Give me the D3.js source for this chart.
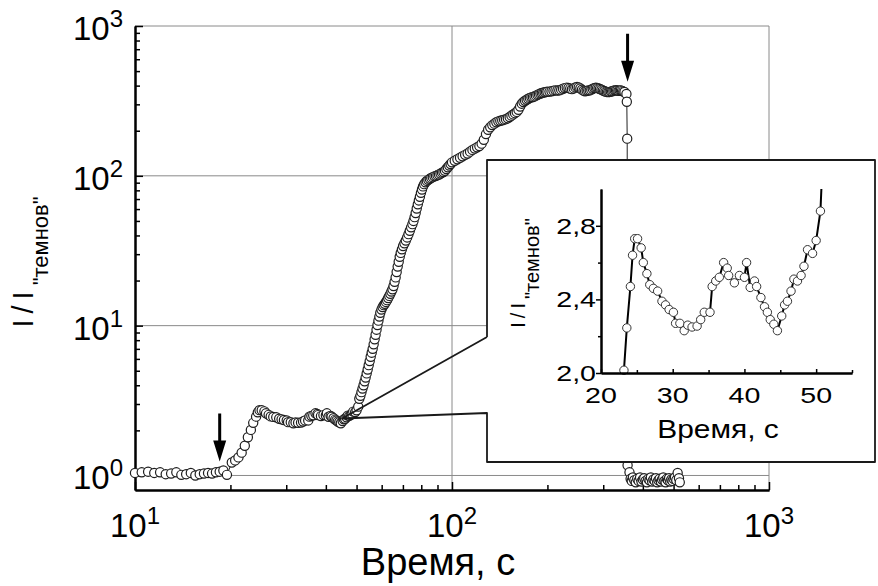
<!DOCTYPE html>
<meta charset="utf-8">
<title>I/I темнов от времени</title>
<style>
    body { margin: 0; background: #fff; }
    svg { display: block; font-family: "Liberation Sans", Arial, sans-serif; }
</style>
<body>
<script src="https://d3js.org/d3.v7.min.js"></script>
<div id="chart"></div>
<script>
    // time, s
    var time = [
        10, 10.5, 11, 11.5, 12, 12.5, 13, 13.5, 14, 14.5,
        15, 15.5, 16, 16.5, 17, 17.5, 18, 18.5, 19, 19.5,
        20.2, 20.7, 21.2, 21.7, 22.2, 22.7,
        23.2, 23.6, 24.1, 24.4, 24.7, 25.1, 25.6, 25.9, 26.4, 26.8,
        27.3, 27.9, 28.5, 29.0, 29.5, 30.1, 30.4, 31.0, 31.6, 32.1,
        32.7, 33.4, 33.9, 34.4, 35.2, 35.5, 36.0, 36.5, 37.1, 37.6,
        37.8, 38.6, 39.3, 40.0, 40.3, 40.8, 41.4, 41.7, 42.3, 42.8,
        43.2, 43.6, 44.1, 44.6, 45.2, 45.6, 46.0, 46.5, 46.9, 47.4,
        47.9, 48.3, 48.8, 49.5, 50.0, 50.6,
        51.0, 51.4, 51.8, 52.2, 52.6, 53.0, 53.4, 53.8, 54.2, 54.6,
        55.0, 55.4, 55.8, 56.2, 56.6, 57.0, 57.4, 57.8, 58.2, 58.6,
        59.0, 59.4, 59.9, 60.4, 60.9, 61.4, 61.9, 62.4, 62.9, 63.4,
        63.9, 64.4, 64.9, 65.4, 65.9, 66.4, 66.9, 67.4, 67.9, 68.4,
        68.9, 69.5, 70.1, 70.8, 71.5, 72.2, 72.9, 73.6, 74.3, 75.0,
        75.6, 76.2, 76.8, 77.4, 78.0, 78.6, 79.2, 79.8, 80.4, 81.0,
        81.7, 82.5, 83.3, 84.2, 85.1, 86.0, 87.0, 88.0, 89.0, 90.0,
        91, 92, 93, 94, 95, 96, 97, 98, 99, 100,
        102, 104, 106, 108, 110, 112, 114, 116, 118, 120,
        122, 124, 126, 128, 130, 132, 134, 136, 138, 140,
        142, 144, 146, 148, 150, 152, 154, 156, 158, 160,
        162, 164, 166, 168, 170, 172, 174, 176, 178, 180,
        182, 184, 186, 188, 190, 192, 194, 196, 198, 200,
        203, 206, 209, 212, 215, 218, 221, 224, 227, 230,
        233, 236, 239, 242, 245, 248, 251, 254, 257, 260,
        263, 266, 269, 272, 275, 278, 281, 284, 287, 290,
        293, 296, 299, 302, 305, 308, 311, 314, 317, 320,
        323, 326, 329, 332, 335, 338, 341, 344, 347, 350,
        355, 356, 357, 358,
        363, 366, 369, 372, 376, 380, 384, 388, 392, 396,
        400, 404, 408, 412, 416, 420, 424, 428, 432, 436,
        440, 444, 448, 452, 456, 460, 464, 468, 472, 476,
        480, 484, 488, 492, 496, 500, 505, 510, 515, 520, 523
    ];
    // I / I"темнов"
    var ratio = [
        1.04, 1.05, 1.06, 1.04, 1.05, 1.02, 1.03, 1.05, 1.01, 1.02,
        1.04, 1.00, 1.02, 1.03, 1.04, 1.03, 1.05, 1.06, 1.08, 1.01,
        1.22, 1.26, 1.32, 1.42, 1.58, 1.80,
        2.015, 2.245, 2.47, 2.64, 2.73, 2.73, 2.68, 2.60, 2.54, 2.48,
        2.46, 2.445, 2.39, 2.37, 2.345, 2.33, 2.27, 2.27, 2.23, 2.26,
        2.25, 2.255, 2.29, 2.33, 2.33, 2.47, 2.50, 2.52, 2.60, 2.57,
        2.53, 2.49, 2.53, 2.52, 2.60, 2.465, 2.50, 2.47, 2.41, 2.36,
        2.33, 2.29, 2.265, 2.23, 2.31, 2.37, 2.39, 2.445, 2.51, 2.50,
        2.53, 2.58, 2.67, 2.65, 2.72, 2.88,
        3.25, 3.4, 3.6, 3.8, 4.0, 4.25, 4.5, 4.8, 5.1, 5.45,
        5.8, 6.2, 6.6, 7.0, 7.5, 8.1, 8.7, 9.4, 10.1, 10.8,
        11.5, 12.2, 12.8, 13.3, 13.7, 14.0, 14.4, 14.8, 15.3, 15.8,
        16.3, 16.9, 17.5, 18.4, 19.6, 21.0, 22.8, 24.8, 26.7, 28.8,
        30.6, 32.3, 34.0, 35.5, 37.0, 38.8, 40.8, 43.0, 45.3, 47.6,
        50.0, 53.0, 56.5, 60.5, 64.5, 68.5, 72.5, 77.0, 81.0, 85.0,
        88.0, 90.5, 92.5, 94.0, 95.5, 96.8, 98.0, 99.2, 100, 101,
        102, 103.5, 105, 106, 108, 111, 114, 117, 120, 123,
        126, 129, 132, 135, 138, 141, 145, 149, 152, 155,
        158, 164, 174, 190, 203, 211, 218, 223, 228, 231,
        233, 235, 237, 239, 242, 247, 252, 257, 262, 267,
        276, 290, 303, 311, 317, 322, 327, 331, 334, 336,
        339, 343, 347, 351, 354, 357, 359, 361, 363, 364,
        365, 367, 370, 372, 371, 372, 376, 381, 385, 388,
        386, 382, 379, 383, 389, 392, 389, 383, 376, 370,
        367, 369, 371, 372, 376, 381, 385, 387, 386, 383,
        380, 376, 372, 368, 365, 363, 362, 363, 365, 367,
        370, 372, 373, 371, 369, 371, 372, 369, 365, 363,
        352, 312, 177, 1.17,
        1.05, 0.95, 0.92, 0.97, 0.93, 0.90, 0.95, 0.92, 0.97, 0.91,
        0.94, 0.96, 0.92, 0.90, 0.95, 0.93, 0.97, 0.91, 0.94, 0.92,
        0.96, 0.90, 0.93, 0.95, 0.91, 0.94, 0.97, 0.92, 0.90, 0.95,
        0.93, 0.96, 0.91, 0.94, 0.92, 0.95, 0.97, 0.93, 1.04, 0.96, 0.90
    ];

    var xTicks = [10, 100, 1000];
    var xGrid = [100, 1000];
    var yTicks = [1, 10, 100, 1000];
    var insetXTicks = [20, 30, 40, 50];
    var insetXMinor = [25, 35, 45, 55];
    var insetYTicks = [2.0, 2.4, 2.8];
    var insetYMinor = [2.2, 2.6];

    // arrows: light switched on / off
    var arrowTime = [18.5, 358];
    var arrowLevel = [1.24, 425];

    // the point of the main curve the inset is pinned to
    var zoomTime = 45;
    var zoomLevel = 2.4;

    var width = 878;
    var height = 586;
    var plot = {left: 135, right: 769, top: 26, bottom: 490};
    var box = {left: 487, right: 875, top: 160, bottom: 462, notchTop: 337, notchBottom: 413};
    var inset = {left: 601, right: 852, top: 189, bottom: 373};

    var points = time.map(function(t, i) { return [t, ratio[i]]; });

    var x = d3.scaleLog().domain([10, 1000]).range([plot.left, plot.right]);
    var y = d3.scaleLog().domain([0.8, 1000]).range([plot.bottom, plot.top]);
    var ix = d3.scaleLinear().domain([20, 55]).range([inset.left, inset.right]);
    var iy = d3.scaleLinear().domain([2, 3]).range([inset.bottom, inset.top]);

    var xMinor = x.ticks().filter(function(d) { return xTicks.indexOf(d) < 0; });
    var yMinor = y.ticks().filter(function(d) { return d >= 1 && yTicks.indexOf(d) < 0; });

    var svg = d3.select("#chart").append("svg")
        .attr("width", width)
        .attr("height", height);

    // grid (also gives the top and right border)
    var grid = svg.append("g")
        .attr("stroke", "#8a8a8a")
        .attr("stroke-width", 1);
    grid.selectAll(".hgrid")
        .data(yTicks)
        .enter().append("line")
        .attr("x1", plot.left)
        .attr("x2", plot.right)
        .attr("y1", function(d) { return y(d); })
        .attr("y2", function(d) { return y(d); });
    grid.selectAll(".vgrid")
        .data(xGrid)
        .enter().append("line")
        .attr("x1", function(d) { return x(d); })
        .attr("x2", function(d) { return x(d); })
        .attr("y1", plot.top)
        .attr("y2", plot.bottom);

    function styleAxis(g, w) {
        g.selectAll("path, line").attr("stroke", "#000");
        g.select(".domain").attr("stroke-width", w);
        g.selectAll(".tick line").attr("stroke-width", 1.5);
    }

    // main axes, ticks inside
    svg.append("g")
        .attr("transform", "translate(" + plot.left + ",0)")
        .call(d3.axisLeft(y).tickValues(yTicks).tickSize(-8).tickSizeOuter(0).tickFormat(""))
        .call(styleAxis, 2);
    svg.append("g")
        .attr("transform", "translate(" + plot.left + ",0)")
        .call(d3.axisLeft(y).tickValues(yMinor).tickSize(-5).tickSizeOuter(0).tickFormat(""))
        .call(styleAxis, 2);
    svg.append("g")
        .attr("transform", "translate(0," + plot.bottom + ")")
        .call(d3.axisBottom(x).tickValues(xTicks).tickSize(-8).tickSizeOuter(0).tickFormat(""))
        .call(styleAxis, 2);
    svg.append("g")
        .attr("transform", "translate(0," + plot.bottom + ")")
        .call(d3.axisBottom(x).tickValues(xMinor).tickSize(-5).tickSizeOuter(0).tickFormat(""))
        .call(styleAxis, 2);

    function powerLabel(sel) {
        sel.append("tspan").text("10");
        sel.append("tspan")
            .attr("dy", -13)
            .style("font-size", "24px")
            .text(function(d) { return Math.round(Math.log10(d)); });
    }

    svg.append("g").selectAll("text")
        .data(yTicks)
        .enter().append("text")
        .attr("x", 123)
        .attr("y", function(d) { return y(d) + 14; })
        .attr("text-anchor", "end")
        .style("font-size", "33px")
        .call(powerLabel);

    svg.append("g").selectAll("text")
        .data(xTicks)
        .enter().append("text")
        .attr("x", function(d) { return x(d); })
        .attr("y", 537)
        .attr("text-anchor", "middle")
        .style("font-size", "33px")
        .call(powerLabel);

    svg.append("text")
        .attr("x", 438)
        .attr("y", 575)
        .attr("text-anchor", "middle")
        .style("font-size", "38px")
        .text("Время, с");

    var yTitle = svg.append("text")
        .attr("transform", "translate(33,262) rotate(-90)")
        .attr("text-anchor", "middle");
    yTitle.append("tspan")
        .style("font-size", "29px")
        .style("letter-spacing", "6px")
        .text("I/I");
    yTitle.append("tspan")
        .attr("dy", 15)
        .style("font-size", "22px")
        .text("\"темнов\"");

    // main series
    var line = d3.line()
        .x(function(d) { return x(d[0]); })
        .y(function(d) { return y(d[1]); });

    svg.append("path")
        .datum(points)
        .attr("d", line)
        .attr("fill", "none")
        .attr("stroke", "#222")
        .attr("stroke-width", 1);

    svg.append("g").selectAll("circle")
        .data(points)
        .enter().append("circle")
        .attr("cx", function(d) { return x(d[0]); })
        .attr("cy", function(d) { return y(d[1]); })
        .attr("r", 4.6)
        .attr("fill", "#fff")
        .attr("stroke", "#1e1e1e")
        .attr("stroke-width", 1.2);

    // inset box with pointer to the zoomed point
    var tipX = x(zoomTime), tipY = y(zoomLevel);
    svg.append("rect")
        .attr("x", box.left)
        .attr("y", box.top)
        .attr("width", box.right - box.left)
        .attr("height", box.bottom - box.top)
        .attr("fill", "#fff");
    svg.append("path")
        .attr("d", "M" + box.left + "," + box.notchTop + "V" + box.top + "H" + box.right +
            "V" + box.bottom + "H" + box.left + "V" + box.notchBottom +
            "L" + tipX + "," + tipY + "L" + box.left + "," + box.notchTop)
        .attr("fill", "none")
        .attr("stroke", "#1a1a1a")
        .attr("stroke-width", 1.8)
        .attr("stroke-linejoin", "round");

    // inset
    svg.append("clipPath")
        .attr("id", "insetClip")
        .append("rect")
        .attr("x", inset.left)
        .attr("y", inset.top)
        .attr("width", inset.right - inset.left)
        .attr("height", inset.bottom - inset.top);

    var insetPts = points.filter(function(d) {
        return d[0] >= 20 && d[0] <= 55 && d[1] >= 2 && d[1] <= 3;
    });
    var insetLinePts = points.filter(function(d) { return d[0] > 22 && d[0] < 52; });

    svg.append("path")
        .datum(insetLinePts)
        .attr("clip-path", "url(#insetClip)")
        .attr("d", d3.line()
            .x(function(d) { return ix(d[0]); })
            .y(function(d) { return iy(d[1]); }))
        .attr("fill", "none")
        .attr("stroke", "#000")
        .attr("stroke-width", 2);

    svg.append("g").selectAll("circle")
        .data(insetPts)
        .enter().append("circle")
        .attr("cx", function(d) { return ix(d[0]); })
        .attr("cy", function(d) { return iy(d[1]); })
        .attr("r", 4.2)
        .attr("fill", "#fff")
        .attr("stroke", "#333")
        .attr("stroke-width", 1);

    svg.append("g")
        .attr("transform", "translate(0," + inset.bottom + ")")
        .call(d3.axisBottom(ix).tickValues(insetXTicks).tickSize(-4).tickSizeOuter(0).tickFormat(""))
        .call(styleAxis, 2);
    svg.append("g")
        .attr("transform", "translate(0," + inset.bottom + ")")
        .call(d3.axisBottom(ix).tickValues(insetXMinor).tickSize(-3).tickSizeOuter(0).tickFormat(""))
        .call(styleAxis, 2);
    svg.append("g")
        .attr("transform", "translate(" + inset.left + ",0)")
        .call(d3.axisLeft(iy).tickValues(insetYTicks).tickSize(5).tickSizeOuter(0).tickFormat(""))
        .call(styleAxis, 2);
    svg.append("g")
        .attr("transform", "translate(" + inset.left + ",0)")
        .call(d3.axisLeft(iy).tickValues(insetYMinor).tickSize(3).tickSizeOuter(0).tickFormat(""))
        .call(styleAxis, 2);

    var comma = function(d) { return d3.format(".1f")(d).replace(".", ","); };

    svg.append("g").selectAll("text")
        .data(insetYTicks)
        .enter().append("text")
        .attr("transform", function(d) { return "translate(596," + (iy(d) + 8) + ") scale(1.3,1)"; })
        .attr("text-anchor", "end")
        .style("font-size", "22px")
        .text(comma);

    svg.append("g").selectAll("text")
        .data(insetXTicks)
        .enter().append("text")
        .attr("transform", function(d) { return "translate(" + ix(d) + ",403) scale(1.3,1)"; })
        .attr("text-anchor", "middle")
        .style("font-size", "22px")
        .text(function(d) { return d; });

    svg.append("text")
        .attr("transform", "translate(718,438) scale(1.15,1)")
        .attr("text-anchor", "middle")
        .style("font-size", "26px")
        .text("Время, с");

    var iyTitle = svg.append("text")
        .attr("transform", "translate(525,273) rotate(-90)")
        .attr("text-anchor", "middle");
    iyTitle.append("tspan")
        .style("font-size", "20px")
        .style("letter-spacing", "4px")
        .text("I/I");
    iyTitle.append("tspan")
        .attr("dy", 14)
        .style("font-size", "20px")
        .text("\"темнов\"");

    // arrows
    svg.append("g").selectAll("path")
        .data(arrowTime)
        .enter().append("path")
        .attr("d", function(d, i) {
            var ax = x(d), ay = y(arrowLevel[i]);
            return "M" + (ax - 1.5) + "," + (ay - 48) + "H" + (ax + 1.5) + "V" + (ay - 21) +
                "H" + (ax + 6.5) + "L" + ax + "," + ay + "L" + (ax - 6.5) + "," + (ay - 21) +
                "H" + (ax - 1.5) + "Z";
        })
        .attr("fill", "#000");
</script>
</body>
